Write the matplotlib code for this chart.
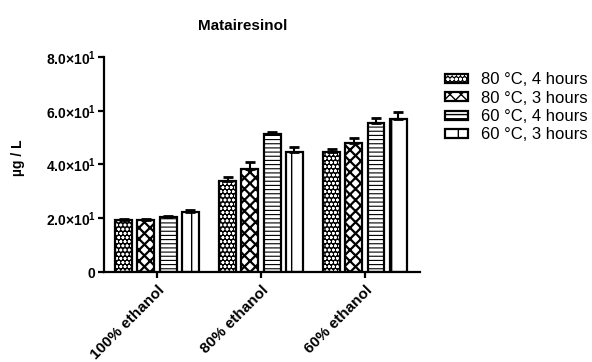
import matplotlib
matplotlib.use("Agg")
import matplotlib.pyplot as plt
from matplotlib.patches import Patch
import numpy as np

plt.rcParams["font.family"] = ["Liberation Sans", "DejaVu Sans"]
plt.rcParams["mathtext.fontset"] = "custom"
plt.rcParams["mathtext.rm"] = "Liberation Sans:bold"
plt.rcParams["mathtext.bf"] = "Liberation Sans:bold"
plt.rcParams["mathtext.it"] = "Liberation Sans:bold"

groups = ["100% ethanol", "80% ethanol", "60% ethanol"]
series = ["80 °C, 4 hours", "80 °C, 3 hours", "60 °C, 4 hours", "60 °C, 3 hours"]
values = [
    [19.4, 33.8, 44.8],
    [19.2, 38.5, 47.9],
    [20.3, 51.2, 55.6],
    [22.4, 44.6, 56.9],
]
errors = [
    [0.4, 1.6, 1.0],
    [0.4, 2.3, 2.0],
    [0.5, 0.8, 1.7],
    [0.5, 1.8, 2.8],
]
yticks = [0, 20, 40, 60, 80]
yticklabels = ["0", r"$\mathbf{2.0{\times}10^{1}}$", r"$\mathbf{4.0{\times}10^{1}}$",
               r"$\mathbf{6.0{\times}10^{1}}$", r"$\mathbf{8.0{\times}10^{1}}$"]

# (face, hatch colour, hatch, hatch linewidth)
styles = [
    ("black", "white", "oooo", 0.8),
    ("white", "black", "xxx", 1.6),
    ("white", "black", "----", 0.8),
    ("white", "black", "|", 1.0),
]

fig = plt.figure(figsize=(5.92, 3.62), dpi=100)
ax = fig.add_axes([0.1757, 0.2486, 0.5338, 0.594])

x = np.arange(len(groups))
pitch = 0.213
width = 0.163
handles = []
for i, (vals, errs) in enumerate(zip(values, errors)):
    face, hcol, hatch, hlw = styles[i]
    pos = x + (i - 1.5) * pitch
    plt.rcParams["hatch.linewidth"] = hlw
    ax.bar(pos, vals, width, color=face, edgecolor=hcol, hatch=hatch, linewidth=0, zorder=2)
    ax.bar(pos, vals, width, fill=False, edgecolor="black", linewidth=1.6, zorder=3)
    ax.errorbar(pos, vals, yerr=[np.zeros(len(errs)), errs], fmt="none", ecolor="black",
                elinewidth=1.5, capsize=3.5, capthick=2, zorder=4)
    p1 = Patch(facecolor=face, edgecolor=hcol, hatch=hatch, linewidth=0)
    p2 = Patch(fill=False, edgecolor="black", linewidth=1.6)
    handles.append((p1, p2))

ax.set_xlim(-0.51, 2.53)
ax.set_ylim(0, 80)
ax.set_yticks(yticks)
ax.set_yticklabels(yticklabels, fontsize=10, fontweight="bold")
ax.set_xticks(x)
ax.set_xticklabels(groups, rotation=45, ha="right", rotation_mode="anchor",
                   fontsize=11, fontweight="bold")
for s in ["top", "right"]:
    ax.spines[s].set_visible(False)
for s in ["left", "bottom"]:
    ax.spines[s].set_linewidth(1.6)
ax.tick_params(axis="both", direction="out", length=4, width=1.6, pad=2)
ax.tick_params(axis="x", pad=4)

fig.text(18 / 592, 1 - 158 / 362, "µg / L", rotation=90, ha="center", va="center",
         fontsize=10, fontweight="bold")
fig.text(243 / 592, 1 - 26 / 362, "Matairesinol", ha="center", va="center",
         fontsize=11, fontweight="bold")

fig.legend(handles, series, loc="upper left", bbox_to_anchor=(432 / 592, 1 - 59 / 362),
           frameon=False, fontsize=12, handlelength=1.35, handleheight=0.45,
           handletextpad=0.8, labelspacing=0.2, borderpad=0.3)

fig.savefig("out.png", dpi=100)
